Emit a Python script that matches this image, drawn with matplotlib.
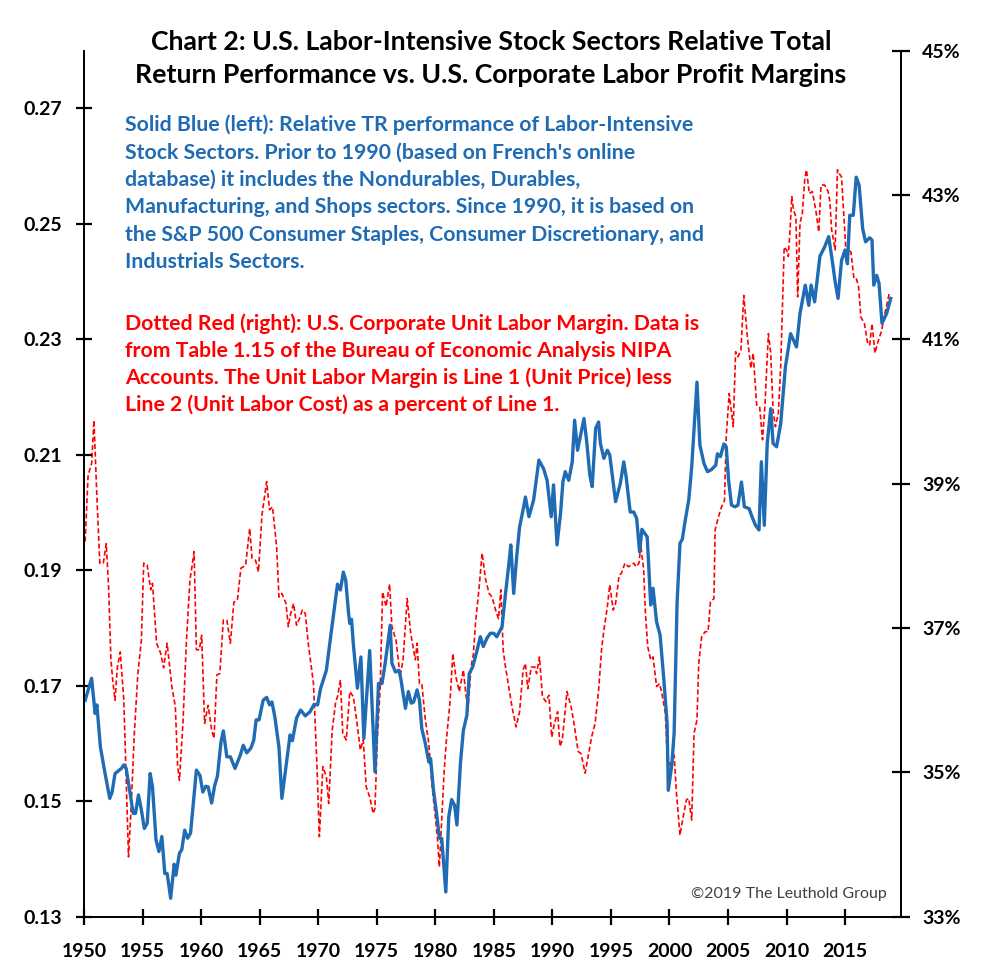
import matplotlib
matplotlib.use("Agg")
import matplotlib.pyplot as plt
from matplotlib.ticker import FuncFormatter

plt.rcParams['font.family'] = ['Lato', 'DejaVu Sans']

# ---------------- data ----------------
blue_years = [1950.1, 1950.65, 1950.95, 1951.1, 1951.4, 1951.8, 1952.2, 1952.4, 1952.65, 1953.2,
              1953.4, 1953.6, 1953.9, 1954.2, 1954.4, 1954.65, 1954.9, 1955.15, 1955.4, 1955.65,
              1955.85, 1956.15, 1956.4, 1956.65, 1956.9, 1957.1, 1957.4, 1957.7, 1957.85, 1958.15,
              1958.35, 1958.6, 1958.85, 1959.1, 1959.6, 1959.9, 1960.15, 1960.4, 1960.6, 1960.9,
              1961.15, 1961.4, 1961.7, 1961.9, 1962.2, 1962.5, 1962.9, 1963.35, 1963.6, 1963.9,
              1964.25, 1964.5, 1964.7, 1964.95, 1965.3, 1965.6, 1965.85, 1966.05, 1966.3, 1966.65,
              1966.9, 1967.25, 1967.6, 1967.8, 1968.15, 1968.5, 1968.9, 1969.3, 1969.65, 1969.95,
              1970.2, 1970.7, 1971.0, 1971.45, 1971.65, 1971.9, 1972.15, 1972.35, 1972.6, 1972.7,
              1972.85, 1973.0, 1973.35, 1973.65, 1973.9, 1974.4, 1974.85, 1975.15, 1975.45, 1975.7,
              1976.15, 1976.3, 1976.6, 1976.9, 1977.05, 1977.45, 1977.7, 1977.95, 1978.15, 1978.45,
              1978.65, 1978.85, 1979.15, 1979.45, 1979.6, 1979.85, 1980.15, 1980.35, 1980.55, 1980.9,
              1981.15, 1981.4, 1981.65, 1981.85, 1982.15, 1982.4, 1982.7, 1982.9, 1983.2, 1983.55,
              1983.85, 1984.1, 1984.4, 1984.7, 1985.0, 1985.25, 1985.7, 1986.0, 1986.35, 1986.45,
              1986.7, 1986.95, 1987.2, 1987.55, 1987.7, 1988.0, 1988.4, 1988.85, 1989.25, 1989.55,
              1989.9, 1990.1, 1990.4, 1990.7, 1990.9, 1991.1, 1991.4, 1991.7, 1991.9, 1992.15,
              1992.7, 1992.95, 1993.2, 1993.4, 1993.7, 1993.95, 1994.1, 1994.4, 1994.7, 1994.9,
              1995.4, 1995.8, 1996.1, 1996.3, 1996.65, 1996.95, 1997.2, 1997.45, 1997.65, 1998.1,
              1998.4, 1998.6, 1998.9, 1999.2, 1999.5, 1999.8, 1999.9, 2000.2, 2000.4, 2000.65,
              2000.9, 2001.1, 2001.35, 2001.65, 2001.9, 2002.1, 2002.35, 2002.6, 2002.95, 2003.25,
              2003.55, 2003.95, 2004.1, 2004.35, 2004.65, 2004.85, 2005.05, 2005.3, 2005.6, 2005.85,
              2006.15, 2006.4, 2006.8, 2007.05, 2007.35, 2007.65, 2007.85, 2008.1, 2008.35, 2008.65,
              2008.85, 2009.15, 2009.5, 2009.9, 2010.35, 2010.85, 2011.15, 2011.6, 2011.9, 2012.1,
              2012.4, 2012.85, 2013.25, 2013.6, 2013.9, 2014.15, 2014.4, 2014.7, 2015.0, 2015.2,
              2015.4, 2015.7, 2015.95, 2016.2, 2016.5, 2016.75, 2017.1, 2017.3, 2017.45, 2017.7,
              2017.9, 2018.15, 2018.55, 2018.9]
blue_values = [0.1675, 0.1713, 0.1652, 0.1667, 0.1594, 0.1548, 0.1505, 0.1516, 0.1548, 0.1557,
               0.1563, 0.1557, 0.1519, 0.1479, 0.1479, 0.1511, 0.1485, 0.1453, 0.1462, 0.1548,
               0.1525, 0.1433, 0.1413, 0.1439, 0.1375, 0.1375, 0.1332, 0.1391, 0.1372, 0.1410,
               0.1416, 0.1450, 0.1436, 0.1445, 0.1554, 0.1545, 0.1516, 0.1526, 0.1525, 0.1497,
               0.1526, 0.1544, 0.1603, 0.1622, 0.1577, 0.1577, 0.1557, 0.1580, 0.1597, 0.1584,
               0.1592, 0.1606, 0.1641, 0.1641, 0.1675, 0.1680, 0.1667, 0.1672, 0.1646, 0.1594,
               0.1505, 0.1560, 0.1615, 0.1605, 0.1644, 0.1658, 0.1648, 0.1655, 0.1668, 0.1667,
               0.1695, 0.1727, 0.1775, 0.1845, 0.1876, 0.1866, 0.1897, 0.1883, 0.1825, 0.1808,
               0.1815, 0.1773, 0.1696, 0.1750, 0.1609, 0.1761, 0.1551, 0.1704, 0.1704, 0.1736,
               0.1805, 0.1739, 0.1724, 0.1727, 0.1713, 0.1661, 0.1690, 0.1670, 0.1672, 0.1693,
               0.1675, 0.1626, 0.1600, 0.1568, 0.1574, 0.1519, 0.1473, 0.1436, 0.1436, 0.1343,
               0.1473, 0.1503, 0.1493, 0.1459, 0.1566, 0.1623, 0.1649, 0.1721, 0.1733, 0.1760,
               0.1785, 0.1768, 0.1782, 0.1791, 0.1791, 0.1785, 0.1802, 0.1860, 0.1923, 0.1944,
               0.1860, 0.1923, 0.1975, 0.2010, 0.2027, 0.1993, 0.2022, 0.2091, 0.2076, 0.2056,
               0.1993, 0.2048, 0.1944, 0.1999, 0.2053, 0.2071, 0.2056, 0.2088, 0.2160, 0.2108,
               0.2163, 0.2120, 0.2065, 0.2045, 0.2146, 0.2157, 0.2120, 0.2094, 0.2108, 0.2100,
               0.2019, 0.2050, 0.2088, 0.2062, 0.2001, 0.2001, 0.1990, 0.1932, 0.1971, 0.1958,
               0.1840, 0.1869, 0.1811, 0.1788, 0.1716, 0.1635, 0.1519, 0.1563, 0.1618, 0.1843,
               0.1947, 0.1954, 0.1987, 0.2022, 0.2079, 0.2143, 0.2226, 0.2117, 0.2085, 0.2071,
               0.2074, 0.2082, 0.2102, 0.2097, 0.2119, 0.2114, 0.2056, 0.2013, 0.2010, 0.2013,
               0.2053, 0.2010, 0.2007, 0.1993, 0.1978, 0.1970, 0.2088, 0.1978, 0.2120, 0.2180,
               0.2120, 0.2114, 0.2154, 0.2252, 0.2310, 0.2287, 0.2345, 0.2394, 0.2359, 0.2394,
               0.2365, 0.2444, 0.2460, 0.2478, 0.2437, 0.2400, 0.2371, 0.2437, 0.2455, 0.2431,
               0.2515, 0.2515, 0.2581, 0.2567, 0.2492, 0.2469, 0.2476, 0.2472, 0.2394, 0.2411,
               0.2397, 0.2328, 0.2345, 0.2371]

red_years = [1950.1, 1950.35, 1950.65, 1950.85, 1951.1, 1951.35, 1951.65, 1951.9, 1952.1, 1952.3,
             1952.45, 1952.65, 1952.85, 1953.1, 1953.4, 1953.6, 1953.8, 1954.0, 1954.3, 1954.6,
             1954.9, 1955.1, 1955.4, 1955.7, 1955.85, 1956.2, 1956.55, 1956.8, 1957.1, 1957.5,
             1957.8, 1958.0, 1958.15, 1958.45, 1958.75, 1959.05, 1959.3, 1959.4, 1959.6, 1959.85,
             1960.05, 1960.3, 1960.6, 1960.9, 1961.1, 1961.35, 1961.6, 1961.9, 1962.2, 1962.5,
             1962.8, 1963.1, 1963.4, 1963.8, 1964.15, 1964.35, 1964.65, 1964.9, 1965.2, 1965.6,
             1965.85, 1966.1, 1966.45, 1966.65, 1966.9, 1967.25, 1967.45, 1967.65, 1967.9, 1968.15,
             1968.4, 1968.65, 1968.9, 1969.15, 1969.6, 1969.9, 1970.1, 1970.4, 1970.7, 1970.9,
             1971.2, 1971.5, 1971.65, 1971.9, 1972.1, 1972.4, 1972.7, 1973.0, 1973.25, 1973.6,
             1973.85, 1974.1, 1974.4, 1974.7, 1974.85, 1975.05, 1975.3, 1975.5, 1975.8, 1976.1,
             1976.3, 1976.65, 1977.0, 1977.25, 1977.6, 1977.9, 1978.3, 1978.45, 1978.65, 1978.85,
             1979.15, 1979.45, 1979.7, 1980.0, 1980.2, 1980.35, 1980.55, 1980.75, 1980.95, 1981.25,
             1981.5, 1981.75, 1982.05, 1982.4, 1982.6, 1982.8, 1983.05, 1983.25, 1983.45, 1983.75,
             1984.0, 1984.3, 1984.6, 1984.85, 1985.15, 1985.4, 1985.6, 1985.8, 1985.95, 1986.25,
             1986.55, 1986.9, 1987.2, 1987.5, 1987.7, 1987.9, 1988.2, 1988.5, 1988.65, 1988.9,
             1989.15, 1989.45, 1989.7, 1989.95, 1990.15, 1990.45, 1990.65, 1990.85, 1991.25, 1991.6,
             1991.85, 1992.2, 1992.45, 1992.8, 1993.0, 1993.35, 1993.65, 1993.95, 1994.2, 1994.4,
             1994.7, 1994.9, 1995.2, 1995.4, 1995.7, 1995.9, 1996.2, 1996.5, 1996.7, 1996.95,
             1997.15, 1997.4, 1997.55, 1997.8, 1997.95, 1998.15, 1998.4, 1998.6, 1998.9, 1999.15,
             1999.35, 1999.65, 1999.8, 2000.1, 2000.4, 2000.6, 2000.9, 2001.2, 2001.45, 2001.65,
             2001.9, 2002.1, 2002.35, 2002.5, 2002.75, 2003.05, 2003.3, 2003.5, 2003.8, 2003.9,
             2004.15, 2004.4, 2004.7, 2004.85, 2005.1, 2005.3, 2005.45, 2005.65, 2005.85, 2006.1,
             2006.35, 2006.65, 2006.95, 2007.15, 2007.45, 2007.7, 2007.95, 2008.15, 2008.45, 2008.65,
             2008.85, 2009.05, 2009.3, 2009.5, 2009.8, 2010.0, 2010.15, 2010.3, 2010.45, 2010.6,
             2010.8, 2010.95, 2011.15, 2011.35, 2011.55, 2011.7, 2011.95, 2012.2, 2012.5, 2012.75,
             2012.95, 2013.25, 2013.55, 2013.7, 2013.85, 2014.15, 2014.35, 2014.5, 2014.7, 2014.9,
             2015.1, 2015.3, 2015.5, 2015.75, 2015.95, 2016.15, 2016.35, 2016.65, 2016.9, 2017.1,
             2017.3, 2017.55, 2017.85, 2018.1, 2018.4, 2018.8]
red_values = [38.20, 39.12, 39.28, 39.88, 38.82, 37.90, 37.90, 38.17, 37.57, 36.56,
              36.28, 36.00, 36.46, 36.67, 36.00, 34.89, 33.83, 34.43, 35.54, 36.37,
              36.83, 37.90, 37.87, 37.53, 37.62, 36.79, 36.65, 36.45, 36.79, 36.19,
              35.91, 35.08, 34.89, 35.68, 36.83, 37.67, 37.94, 38.06, 36.70, 36.70,
              36.90, 35.68, 35.93, 35.59, 35.47, 36.35, 36.37, 37.11, 37.11, 36.79,
              37.36, 37.39, 37.83, 37.87, 38.38, 37.97, 37.94, 37.78, 38.57, 39.03,
              38.64, 38.68, 38.13, 37.43, 37.48, 37.34, 37.02, 37.20, 37.34, 37.04,
              37.13, 37.25, 37.20, 36.79, 36.23, 35.08, 34.11, 35.08, 34.94, 34.57,
              35.59, 35.98, 36.05, 36.28, 35.54, 35.45, 36.12, 36.05, 35.77, 35.31,
              35.45, 34.80, 34.66, 34.43, 34.50, 35.45, 36.19, 37.50, 37.30, 37.61,
              37.02, 36.83, 36.33, 36.56, 37.41, 36.93, 36.56, 36.79, 36.23, 36.23,
              35.73, 35.40, 34.85, 34.39, 34.06, 33.69, 34.34, 34.99, 35.45, 35.96,
              36.65, 36.33, 36.12, 36.42, 36.10, 35.86, 36.46, 36.63, 37.10, 37.57,
              38.04, 37.67, 37.48, 37.43, 37.25, 37.13, 37.53, 36.70, 36.51, 36.21,
              35.91, 35.63, 35.84, 36.42, 36.51, 36.16, 36.46, 36.46, 36.37, 36.60,
              36.05, 35.98, 36.07, 35.49, 35.66, 35.84, 35.36, 35.45, 36.12, 35.91,
              35.68, 35.29, 35.26, 34.99, 35.17, 35.49, 35.68, 36.14, 36.70, 36.97,
              37.30, 37.60, 37.25, 37.34, 37.73, 37.76, 37.90, 37.85, 37.87, 37.90,
              37.85, 37.90, 38.15, 37.80, 37.20, 36.74, 36.56, 36.60, 36.19, 36.23,
              36.10, 35.82, 35.26, 35.08, 35.24, 34.71, 34.13, 34.41, 34.62, 34.64,
              34.34, 35.54, 35.73, 36.51, 36.88, 36.95, 36.95, 37.36, 37.41, 38.36,
              38.52, 38.66, 38.77, 39.65, 40.25, 39.98, 39.79, 40.83, 40.76, 40.85,
              41.61, 41.04, 40.60, 40.81, 40.09, 40.07, 39.61, 40.07, 41.08, 40.81,
              40.02, 39.79, 39.98, 40.62, 42.28, 42.24, 42.15, 42.52, 42.98, 42.79,
              42.70, 41.59, 42.61, 42.75, 43.21, 43.35, 43.02, 43.05, 42.79, 42.49,
              43.14, 43.14, 43.05, 42.91, 42.52, 42.24, 43.35, 43.30, 43.25, 42.70,
              42.15, 42.24, 42.21, 41.85, 41.85, 41.73, 41.31, 41.22, 40.97, 40.92,
              41.22, 40.81, 40.99, 41.11, 41.36, 41.66]

x_ticks = [1950, 1955, 1960, 1965, 1970, 1975, 1980, 1985, 1990, 1995, 2000, 2005, 2010, 2015]
left_ticks = [0.13, 0.15, 0.17, 0.19, 0.21, 0.23, 0.25, 0.27]
right_ticks = [33, 35, 37, 39, 41, 43, 45]

title_text = ("Chart 2: U.S. Labor-Intensive Stock Sectors Relative Total\n"
              "Return Performance vs. U.S. Corporate Labor Profit Margins")
blue_note = ("Solid Blue (left): Relative TR performance of Labor-Intensive\n"
             "Stock Sectors. Prior to 1990 (based on French's online\n"
             "database) it includes the Nondurables, Durables,\n"
             "Manufacturing, and Shops sectors. Since 1990, it is based on\n"
             "the S&P 500 Consumer Staples, Consumer Discretionary, and\n"
             "Industrials Sectors.")
red_note = ("Dotted Red (right): U.S. Corporate Unit Labor Margin. Data is\n"
            "from Table 1.15 of the Bureau of Economic Analysis NIPA\n"
            "Accounts. The Unit Labor Margin is Line 1 (Unit Price) less\n"
            "Line 2 (Unit Labor Cost) as a percent of Line 1.")
credit = "\u00a92019 The Leuthold Group"

BLUE = "#1F6BB4"
RED = "#FF0000"

# ---------------- figure ----------------
fig = plt.figure(figsize=(10.0, 9.76), dpi=100)
ax = fig.add_axes([0.084, 0.0607, 0.8167, 0.8873])
ax2 = ax.twinx()

ax2.plot(red_years, red_values, color=RED, lw=1.2, linestyle=(0, (3, 1.6)))
ax.plot(blue_years, blue_values, color=BLUE, lw=2.4, solid_joinstyle='round')

ax.set_zorder(ax2.get_zorder() + 1)
ax.patch.set_visible(False)

ax.set_xlim(1950, 2019.75)
ax.set_ylim(0.13, 0.28)
ax2.set_ylim(33, 45)

ax.set_xticks(x_ticks)
ax.set_yticks(left_ticks)
ax.set_yticklabels([f"{v:.2f}" for v in left_ticks])
ax2.set_yticks(right_ticks)
ax2.yaxis.set_major_formatter(FuncFormatter(lambda v, p: f"{v:.0f}%"))

for a in (ax, ax2):
    a.spines['top'].set_visible(False)
    for s in ('left', 'right', 'bottom'):
        a.spines[s].set_linewidth(1.3)
        a.spines[s].set_color('black')

ax.tick_params(axis='both', which='major', direction='inout', length=12, width=1.6,
               labelsize=14, colors='black')
ax.tick_params(axis='y', pad=10)
ax.tick_params(axis='x', pad=13)
ax2.tick_params(axis='y', direction='inout', length=13, width=1.6, labelsize=14, pad=9)
for lab in ax.get_xticklabels() + ax.get_yticklabels() + ax2.get_yticklabels():
    lab.set_fontweight('bold')

fig.text(0.491, 0.969, title_text, ha='center', va='top', fontsize=19.2,
         fontweight='bold', linespacing=1.45, color='black')
fig.text(0.125, 0.8826, blue_note, ha='left', va='top', fontsize=15.3,
         fontweight='bold', color=BLUE, linespacing=1.46)
fig.text(0.125, 0.6787, red_note, ha='left', va='top', fontsize=15.3,
         fontweight='bold', color=RED, linespacing=1.40)
fig.text(0.887, 0.080, credit, ha='right', va='baseline', fontsize=11.5,
         color='#404040')

fig.savefig("out.png", dpi=100)
